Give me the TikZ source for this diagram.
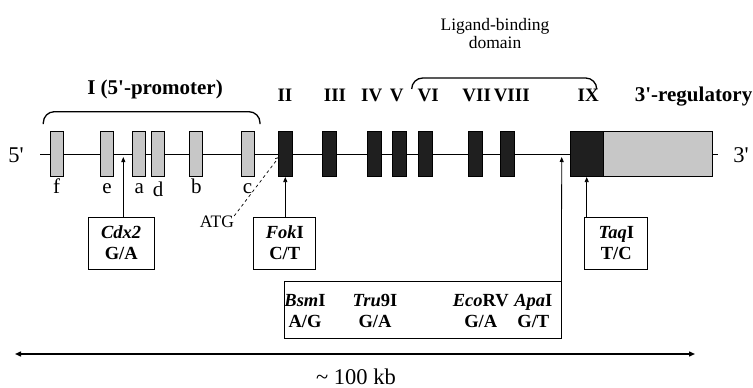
\documentclass[tikz,border=0pt]{standalone}
\usepackage{fontspec}
\setmainfont{Liberation Serif}
\usetikzlibrary{arrows.meta}
\newcommand{\pr}{\textquotesingle}

\begin{document}
\begin{tikzpicture}[x=1pt,y=-1pt,every node/.style={font=\fontsize{17.5}{18}\selectfont,inner sep=0pt},
 gex/.style={draw,line width=.7pt,fill=black!22,minimum width=13pt,minimum height=45pt},
 bex/.style={draw,line width=.7pt,fill=black!88,minimum width=14pt,minimum height=45pt},
 snp/.style={draw,line width=.8pt,align=center,font=\fontsize{18.5}{21}\selectfont\bfseries,minimum height=52pt},
 arr/.style={line width=.8pt,-{Triangle[length=5pt,width=4pt]}},
 lbl/.style={font=\fontsize{21}{22}\selectfont\bfseries},
 big/.style={font=\fontsize{22.5}{24}\selectfont},
 brk/.style={line width=1.3pt,rounded corners=11pt}]
\useasboundingbox (0,0) rectangle (753,388);
\coordinate (l5) at (40,154.5);
\coordinate (l3) at (717.7,154.5);
\draw[line width=1.6pt] (l5) -- (l3);
\node[big,anchor=base] (p5) at (16,162) {5\pr};
\node[big,anchor=base] (p3) at (741,162) {3\pr};
\foreach \x/\n/\y in {56.7/f/193,107/e/193,139.2/a/193,158/d/196,196.3/b/193,247.5/c/193}
 {\node[gex] (x\n) at (\x,154) {};
  \node[anchor=base,font=\fontsize{21}{22}\selectfont] (t\n) at (\x,\y) {\n};}
\foreach \x/\n in {285.3/2,329.7/3,374.2/4,399.7/5,425.3/6,475.8/7,507.8/8}
 {\node[bex] (x\n) at (\x,154.2) {};}
\node[bex,minimum width=32.7pt,anchor=west] (x9) at (570,154.2) {};
\node[gex,minimum width=108.3pt,anchor=west] (reg) at (x9.east) {};
\foreach \x/\r in {285/II,335/III,371.7/IV,396.7/V,428.3/VI,476.7/VII,511.7/VIII,588.3/IX}
 {\node[lbl,anchor=base,font=\fontsize{19}{20}\selectfont\bfseries] (r\r) at (\x,101.5) {\r};}
\node[lbl,anchor=base east] (treg) at (752.5,101.5) {3\pr-regulatory};
\node[lbl,anchor=base] (prom) at (155,94) {I (5\pr-promoter)};
\node[align=center] (lbd) at (495,34) {Ligand-binding\\domain};
\draw[brk] (43.3,124) |- (151.7,111.7) -| (260,124);
\draw[brk] (411.7,89) |- (504,78) -| (596.7,89);
\node[snp,minimum width=66pt] (cdx) at (121.2,243) {\textit{Cdx2}\\G/A};
\node[snp,minimum width=62pt] (fok) at (284.8,243) {\textit{Fok}I\\C/T};
\node[snp,minimum width=63pt] (taq) at (616.3,243) {\textit{Taq}I\\T/C};
\node[draw,line width=.8pt,minimum width=276.7pt,minimum height=56.6pt] (rflp) at (422.7,310) {};
\foreach \x/\n/\e/\b in {305/bsm/{\textit{Bsm}I}/{A/G},375/tru/{\textit{Tru}9I}/{G/A},
 480.7/eco/{\textit{Eco}RV}/{G/A},533.3/apa/{\textit{Apa}I}/{G/T}}
 {\node[align=center,font=\fontsize{18.5}{21}\selectfont\bfseries] (\n) at (\x,311) {\e\\\b};}
\coordinate (cdxtip) at (123.3,157);
\coordinate (apatip) at (561.7,157);
\coordinate (atgtip) at (279,157);
\draw[arr] (cdx.north -| cdxtip) -- (cdxtip);
\draw[arr] (fok.north -| x2) -- (x2.south);
\draw[arr] (taq.north -| x9) -- (x9.south);
\draw[arr] (rflp.north east) -- (apatip);
\node (atg) at (217,222) {ATG};
\draw[dashed,line width=.7pt,-{Straight Barb[length=3pt,width=4pt]}] (atg.north east) -- (atgtip);
\coordinate (kbl) at (15,354);
\coordinate (kbr) at (695,354);
\draw[line width=1.4pt,{Triangle[length=6pt,width=5pt]}-{Triangle[length=6pt,width=5pt]}] (kbl) -- (kbr);
\node[big,anchor=base] (kb) at (356,384) {\textasciitilde{} 100 kb};
\end{tikzpicture}
\end{document}
